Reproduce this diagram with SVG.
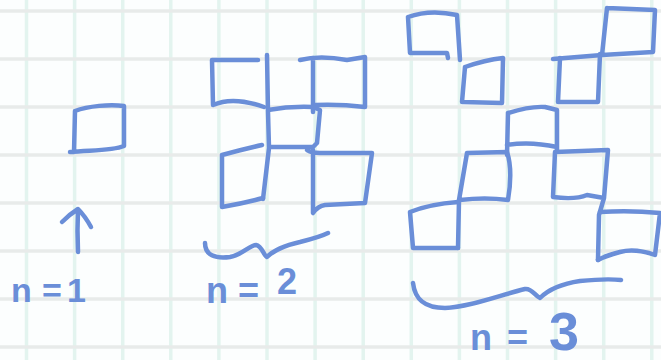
<svg xmlns="http://www.w3.org/2000/svg" width="661" height="360" viewBox="0 0 661 360">
<style>
.bg{fill:#fcfefe}
.gv{stroke:#e3f4ef;stroke-width:3.5;fill:none}
.gh{stroke:#e8ebea;stroke-width:3.5;fill:none}
.ink{stroke:#6a8ed8;stroke-width:4.5;fill:none;stroke-linecap:round;stroke-linejoin:round}
.lbl{fill:#6a8ed8;font-family:"Liberation Sans",Arial,sans-serif;font-weight:bold}
</style>
<rect class="bg" x="0" y="0" width="661" height="360"/>
<g id="grid">
<path class="gv" d="M26.5,0V360M74.6,0V360M122.7,0V360M170.8,0V360M218.9,0V360M267,0V360M315.1,0V360M363.2,0V360M411.3,0V360M459.4,0V360M507.5,0V360M555.6,0V360M603.7,0V360M651.8,0V360"/>
<path class="gh" d="M0,11H661M0,59H661M0,107H661M0,155H661M0,203H661M0,251H661M0,299H661M0,347H661"/>
</g>
<g id="n1">
<g id="n1-sq"><path class="ink" d="M75,111 C88,106 110,104 124,106 L124,146 C112,151 90,150 70,152 M75,111 L74,152"/></g>
<text class="lbl" font-size="34" x="11 42 67" y="302">n=1</text>
</g>
<g id="n2">
<g id="n2-tl"><path class="ink" d="M212,60 L258,60 M212,60 L213,105 Q233,96 264,107"/></g>
<g id="n2-tr"><path class="ink" d="M300,60 Q320,55 347,60 L365,57 L365,107 Q340,104 315,105 M313,58 L313,112"/></g>
<g id="n2-c"><path class="ink" d="M267,55 L268,112 L269,148 L263,199 M268,110 Q290,106 313,107 L320,110 L317,143 L313,147 L270,147"/></g>
<g id="n2-bl"><path class="ink" d="M222,155 Q240,150 262,145 M222,155 L222,207 Q245,203 263,198"/></g>
<g id="n2-br"><path class="ink" d="M307,150 Q312,153 320,153 L372,153 L365,203 L325,205 Q318,206 313,213 L313,150"/></g>
<text class="lbl" font-size="36" x="206 238 277" y="303 303 294">n=2</text>
</g>
<g id="n3">
<g id="n3-1"><path class="ink" d="M408,17 Q430,9 457,15 L460,60 M408,17 L410,53 L447,53 L448,58"/></g>
<g id="n3-2"><path class="ink" d="M607,8 L655,10 L653,52 L602,55 L553,59 M607,8 L602,55"/></g>
<g id="n3-3"><path class="ink" d="M465,67 Q485,60 503,58 L502,103 L463,102 M465,67 L462,102"/></g>
<g id="n3-4"><path class="ink" d="M600,54 L598,102 L558,102 L560,58"/></g>
<g id="n3-5"><path class="ink" d="M508,113 Q530,106 545,107 L557,110 L557,150 M508,113 L507,155 M507,145 Q530,141 557,147"/></g>
<g id="n3-6"><path class="ink" d="M467,153 L507,152 Q513,170 508,200 Q485,197 460,200 M467,153 L459,200 L458,248"/></g>
<g id="n3-7"><path class="ink" d="M555,152 L608,150 L604,198 L599,215 L598,260 M555,152 L553,197 Q575,200 587,195 L604,198"/></g>
<g id="n3-8"><path class="ink" d="M410,212 Q430,204 458,202 M410,212 L413,248 L458,248"/></g>
<g id="n3-9"><path class="ink" d="M600,212 Q630,210 660,213 L655,255 Q635,248 620,252 Q605,256 598,260"/></g>
<text class="lbl" y="350"><tspan x="470" font-size="36">n</tspan><tspan x="507" font-size="36">=</tspan><tspan x="549" font-size="54">3</tspan></text>
</g>
<g id="connectors">
<path id="arrow" class="ink" d="M78,252 Q77,230 78,210 M62,222 Q70,214 78,209 Q85,216 91,227"/>
<path id="brace2" class="ink" d="M205,243 C205,255 215,259 230,257 C242,255 250,245 256,245 C262,246 264,256 267,257 C272,252 282,246 300,242 C312,239 322,236 328,233"/>
<path id="brace3" class="ink" d="M413,283 C415,300 425,308 445,308 C470,307 500,295 525,289 C532,288 535,296 540,298 C548,290 560,284 580,281 C600,279 612,279 621,280"/>
</g>
</svg>
